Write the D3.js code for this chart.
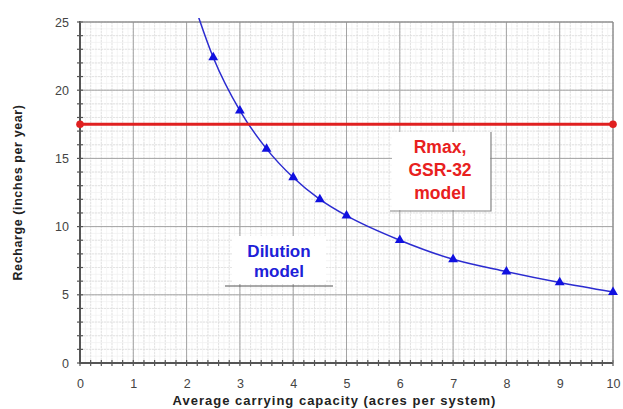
<!DOCTYPE html>
<html><head><meta charset="utf-8">
<script src="https://cdn.jsdelivr.net/npm/d3@7"></script>
<style>body{margin:0;background:#fff}svg{display:block}text{font-family:"Liberation Sans",Arial,sans-serif}</style>
</head><body><svg id="c" width="623" height="409"></svg>
<script>
const xTicks = [0,1,2,3,4,5,6,7,8,9,10];
const yTicks = [0,5,10,15,20,25];
const dilutionX = [2, 2.5, 3, 3.5, 4, 4.5, 5, 6, 7, 8, 9, 10];
const dilutionY = [28, 22.4, 18.5, 15.7, 13.6, 12.0, 10.8, 9.0, 7.6, 6.7, 5.9, 5.2];
const dilutionMarked = [false, true, true, true, true, true, true, true, true, true, true, true];
const rmaxX = [0, 10];
const rmaxY = [17.5, 17.5];
const xTitle = "Average carrying capacity (acres per system)";
const yTitle = "Recharge (inches per year)";
const rmaxLabel = ["Rmax,", "GSR-32", "model"];
const dilLabel = ["Dilution", "model"];

const svg = d3.select("#c");
const L=80, R=613, T=22, B=363;
const x = d3.scaleLinear().domain([0,10]).range([L,R]);
const y = d3.scaleLinear().domain([0,25]).range([B,T]);

const g = svg.append("g");
// fine minor grid
g.append("g").selectAll("line").data(d3.range(0,10.001,0.1)).join("line")
  .attr("x1",d=>x(d)).attr("x2",d=>x(d)).attr("y1",T).attr("y2",B)
  .attr("stroke","#f0f0f0").attr("stroke-width",0.7);
g.append("g").selectAll("line").data(d3.range(0,25.001,0.5)).join("line")
  .attr("y1",d=>y(d)).attr("y2",d=>y(d)).attr("x1",L).attr("x2",R)
  .attr("stroke","#f0f0f0").attr("stroke-width",0.7);
// minor grid
g.append("g").selectAll("line").data(d3.range(0,10.001,0.2)).join("line")
  .attr("x1",d=>x(d)).attr("x2",d=>x(d)).attr("y1",T).attr("y2",B)
  .attr("stroke","#dedede").attr("stroke-width",0.8).attr("stroke-dasharray","2,1");
g.append("g").selectAll("line").data(d3.range(0,25.001,1)).join("line")
  .attr("y1",d=>y(d)).attr("y2",d=>y(d)).attr("x1",L).attr("x2",R)
  .attr("stroke","#dedede").attr("stroke-width",0.8).attr("stroke-dasharray","2,1");
// major grid
g.append("g").selectAll("line").data(xTicks).join("line")
  .attr("x1",d=>x(d)).attr("x2",d=>x(d)).attr("y1",T).attr("y2",B)
  .attr("stroke","#a4a4a4").attr("stroke-width",1);
g.append("g").selectAll("line").data(yTicks).join("line")
  .attr("y1",d=>y(d)).attr("y2",d=>y(d)).attr("x1",L).attr("x2",R)
  .attr("stroke","#a4a4a4").attr("stroke-width",1);

// axes
const xAxis = d3.axisBottom(x).tickValues(xTicks).tickSize(0).tickPadding(16).tickFormat(d3.format("d"));
const xa = svg.append("g").attr("transform",`translate(0,${B})`).call(xAxis);
const yAxis = d3.axisLeft(y).tickValues(yTicks).tickSize(0).tickPadding(11).tickFormat(d3.format("d"));
const ya = svg.append("g").attr("transform",`translate(${L},0)`).call(yAxis);
[xa,ya].forEach(a=>{a.select(".domain").remove();
  a.selectAll("text").attr("font-size",12.5).attr("fill","#444").attr("font-family","Liberation Sans, Arial, sans-serif");});
// minor cross ticks
svg.append("g").selectAll("line").data(d3.range(0,10.001,0.2)).join("line")
  .attr("x1",d=>x(d)).attr("x2",d=>x(d)).attr("y1",B-3).attr("y2",B+3)
  .attr("stroke","#555").attr("stroke-width",1.2);
svg.append("g").selectAll("line").data(d3.range(0,25.001,1)).join("line")
  .attr("y1",d=>y(d)).attr("y2",d=>y(d)).attr("x1",L-3).attr("x2",L+3)
  .attr("stroke","#555").attr("stroke-width",1.2);
svg.append("line").attr("x1",L).attr("x2",R).attr("y1",B).attr("y2",B).attr("stroke","#555").attr("stroke-width",2);
svg.append("line").attr("x1",L).attr("x2",L).attr("y1",T-1).attr("y2",B+1).attr("stroke","#555").attr("stroke-width",2);
svg.append("line").attr("x1",R).attr("x2",R).attr("y1",T).attr("y2",B).attr("stroke","#888").attr("stroke-width",1);
svg.append("line").attr("x1",L).attr("x2",R).attr("y1",T).attr("y2",T).attr("stroke","#888").attr("stroke-width",1);

// titles
svg.append("text").attr("x",(L+R)/2 - 12).attr("y",405).attr("text-anchor","middle")
  .attr("font-size",13).attr("font-weight","bold").attr("letter-spacing","1").attr("fill","#222").text(xTitle);
svg.append("text").attr("transform",`translate(22,${(T+B)/2}) rotate(-90)`).attr("text-anchor","middle")
  .attr("font-size",12.5).attr("font-weight","bold").attr("letter-spacing","0.6").attr("fill","#222").text(yTitle);

// clip for curve
svg.append("clipPath").attr("id","pc").append("rect").attr("x",L).attr("y",T-4).attr("width",R-L+6).attr("height",B-T+4);

const dil = dilutionX.map((d,i)=>({x:d,y:dilutionY[i],m:dilutionMarked[i]}));
svg.append("path").datum(dil).attr("clip-path","url(#pc)")
  .attr("d",d3.line().x(d=>x(d.x)).y(d=>y(d.y)).curve(d3.curveMonotoneX))
  .attr("fill","none").attr("stroke","#2b2bd0").attr("stroke-width",1.5);
svg.append("g").selectAll("path").data(dil.filter(d=>d.m)).join("path")
  .attr("transform",d=>`translate(${x(d.x)},${y(d.y)})`)
  .attr("d",d3.symbol(d3.symbolTriangle,42))
  .attr("fill","#1010e0");

// Rmax line
const rm = rmaxX.map((d,i)=>({x:d,y:rmaxY[i]}));
svg.append("path").datum(rm).attr("d",d3.line().x(d=>x(d.x)).y(d=>y(d.y)))
  .attr("stroke","#e02020").attr("stroke-width",3).attr("fill","none");
svg.append("g").selectAll("circle").data(rm).join("circle")
  .attr("cx",d=>x(d.x)).attr("cy",d=>y(d.y)).attr("r",3.8).attr("fill","#e02020");

// annotation boxes
svg.append("rect").attr("x",392).attr("y",132).attr("width",98).attr("height",78).attr("fill","#fff");
svg.append("polyline").attr("points","491,132 491,211 390,211").attr("fill","none").attr("stroke","#888").attr("stroke-width",1.2);
svg.append("g").selectAll("text").data(rmaxLabel).join("text")
  .attr("x",440).attr("y",(d,i)=>153+i*23).attr("text-anchor","middle")
  .attr("font-size",17.5).attr("font-weight","bold").attr("fill","#e82020").text(d=>d);

svg.append("rect").attr("x",232).attr("y",236).attr("width",94).attr("height",48).attr("fill","#fff");
svg.append("line").attr("x1",225).attr("x2",333).attr("y1",286).attr("y2",286).attr("stroke","#555").attr("stroke-width",1.2);
svg.append("g").selectAll("text").data(dilLabel).join("text")
  .attr("x",279).attr("y",(d,i)=>257+i*20).attr("text-anchor","middle")
  .attr("font-size",17).attr("font-weight","bold").attr("fill","#2020d8").text(d=>d);
</script></body></html>
